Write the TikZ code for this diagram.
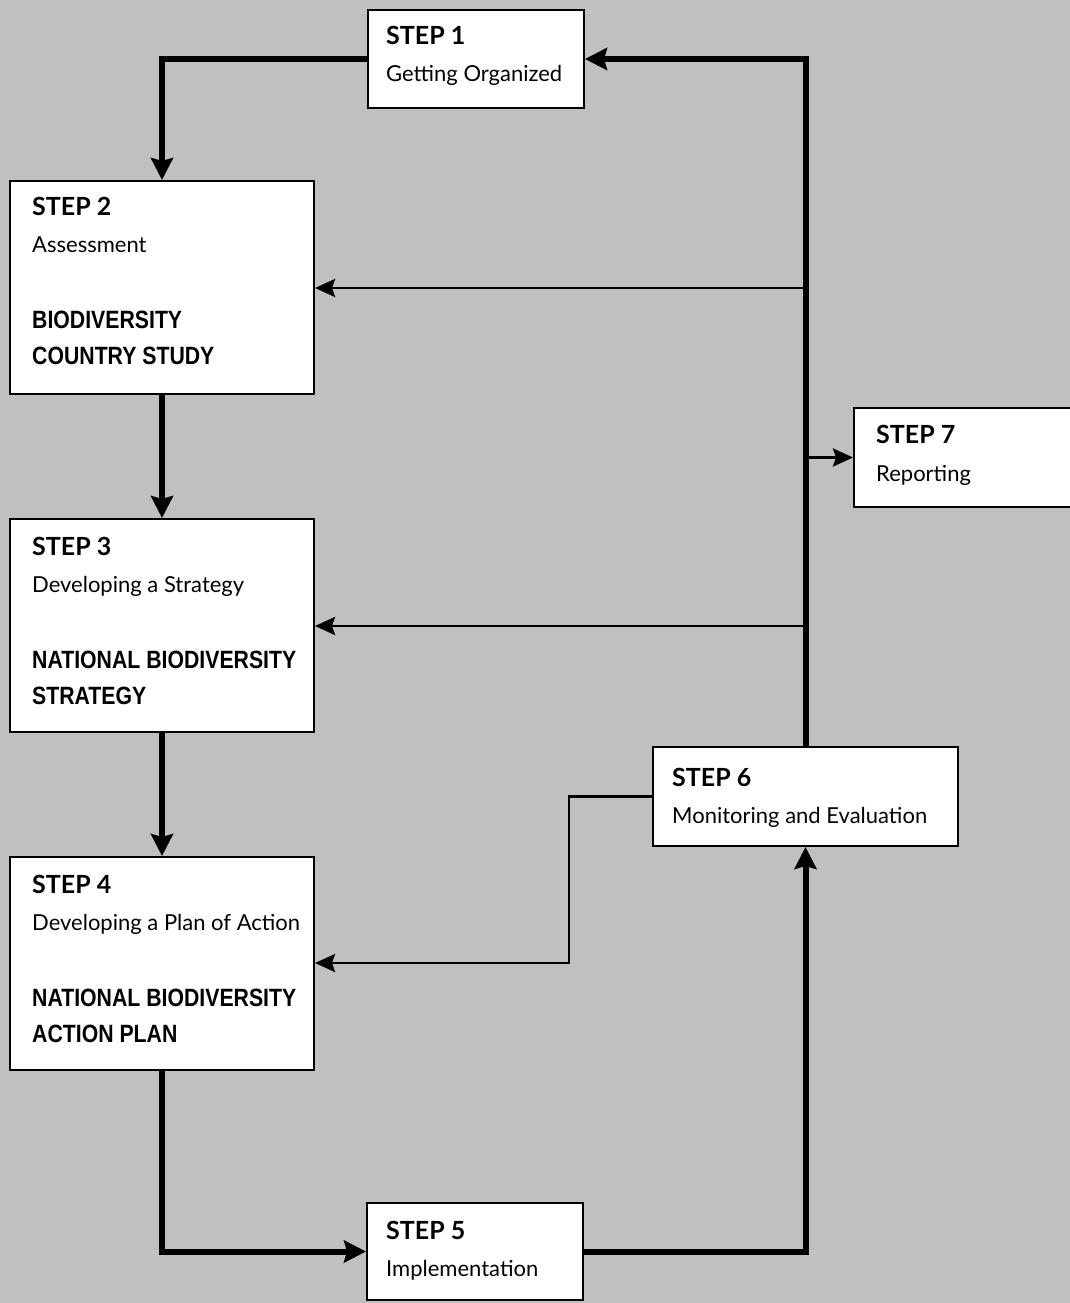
\documentclass[tikz,border=0pt]{standalone}
\usepackage{fontspec}
\setmainfont{Lato}
\newfontfamily\condfont[FakeStretch=0.85]{Liberation Sans}
\usetikzlibrary{arrows.meta}
\definecolor{bg}{RGB}{192,192,192}
\tikzset{
  box/.style={draw=black, line width=2pt, fill=white, anchor=north west, inner sep=0pt},
  steplbl/.style={anchor=base west, inner sep=0pt, font=\fontsize{25}{25}\selectfont\bfseries},
  sublbl/.style={anchor=base west, inner sep=0pt, font=\fontsize{22}{22}\selectfont},
  caplbl/.style={anchor=base west, inner sep=0pt, font=\condfont\bfseries\fontsize{25}{25}\selectfont},
  thick flow/.style={line width=6pt, -{Stealth[length=22pt,width=22pt,inset=3pt]}},
  thin flow/.style={line width=2.8pt, -{Stealth[length=20pt,width=18pt,inset=3pt]}},
}
\begin{document}
\begin{tikzpicture}[x=1pt,y=-1pt]
\fill[bg] (0,0) rectangle (1070,1303);
\useasboundingbox (0,0) rectangle (1070,1303);
% boxes
\node[box, minimum width=216pt, minimum height=98pt] (s1) at (367,9) {};
\node[box, minimum width=304pt, minimum height=213pt] (s2) at (9,180) {};
\node[box, minimum width=304pt, minimum height=213pt] (s3) at (9,518) {};
\node[box, minimum width=304pt, minimum height=213pt] (s4) at (9,856) {};
\node[box, minimum width=216pt, minimum height=97pt] (s5) at (366,1202) {};
\node[box, minimum width=305pt, minimum height=99pt] (s6) at (652,746) {};
\node[box, minimum width=217pt, minimum height=99pt] (s7) at (853,407) {};
% texts
\node[steplbl] (t1a) at (386,45) {STEP 1};
\node[sublbl] (t1b) at (386,82) {Getting Organized};
\node[steplbl] (t2a) at (32,215) {STEP 2};
\node[sublbl] (t2b) at (32,252) {Assessment};
\node[caplbl] (t2c) at (32,328) {BIODIVERSITY};
\node[caplbl] (t2d) at (32,364) {COUNTRY STUDY};
\node[steplbl] (t3a) at (32,555) {STEP 3};
\node[sublbl] (t3b) at (32,592) {Developing a Strategy};
\node[caplbl] (t3c) at (32,668) {NATIONAL BIODIVERSITY};
\node[caplbl] (t3d) at (32,704) {STRATEGY};
\node[steplbl] (t4a) at (32,893) {STEP 4};
\node[sublbl] (t4b) at (32,930) {Developing a Plan of Action};
\node[caplbl] (t4c) at (32,1006) {NATIONAL BIODIVERSITY};
\node[caplbl] (t4d) at (32,1042) {ACTION PLAN};
\node[steplbl] (t5a) at (386,1239) {STEP 5};
\node[sublbl] (t5b) at (386,1276) {Implementation};
\node[steplbl] (t6a) at (672,786) {STEP 6};
\node[sublbl] (t6b) at (672,823) {Monitoring and Evaluation};
\node[steplbl] (t7a) at (876,443) {STEP 7};
\node[sublbl] (t7b) at (876,481) {Reporting};
% junction points on the right trunk
\coordinate (j2) at (806,288);
\coordinate (j3) at (806,626);
\coordinate (j7) at (s6.north |- s7.west);
\coordinate (k6) at (569,963);
% thick flow
\draw[thick flow] (s1.west) -| (s2.north);
\draw[thick flow] (s2.south) -- (s3.north);
\draw[thick flow] (s3.south) -- (s4.north);
\draw[thick flow] (s4.south) |- (s5.west);
\draw[thick flow] (s5.east) -| (s6.south);
\draw[thick flow] (s6.north) |- (s1.east);
% thin flow
\draw[thin flow] (j2) -- (s2.east |- j2);
\draw[thin flow] (j3) -- (s3.east |- j3);
\draw[thin flow] (j7) -- (s7.west);
\draw[thin flow] (s6.west) -| (k6) -- (s4.east |- k6);
\end{tikzpicture}
\end{document}
